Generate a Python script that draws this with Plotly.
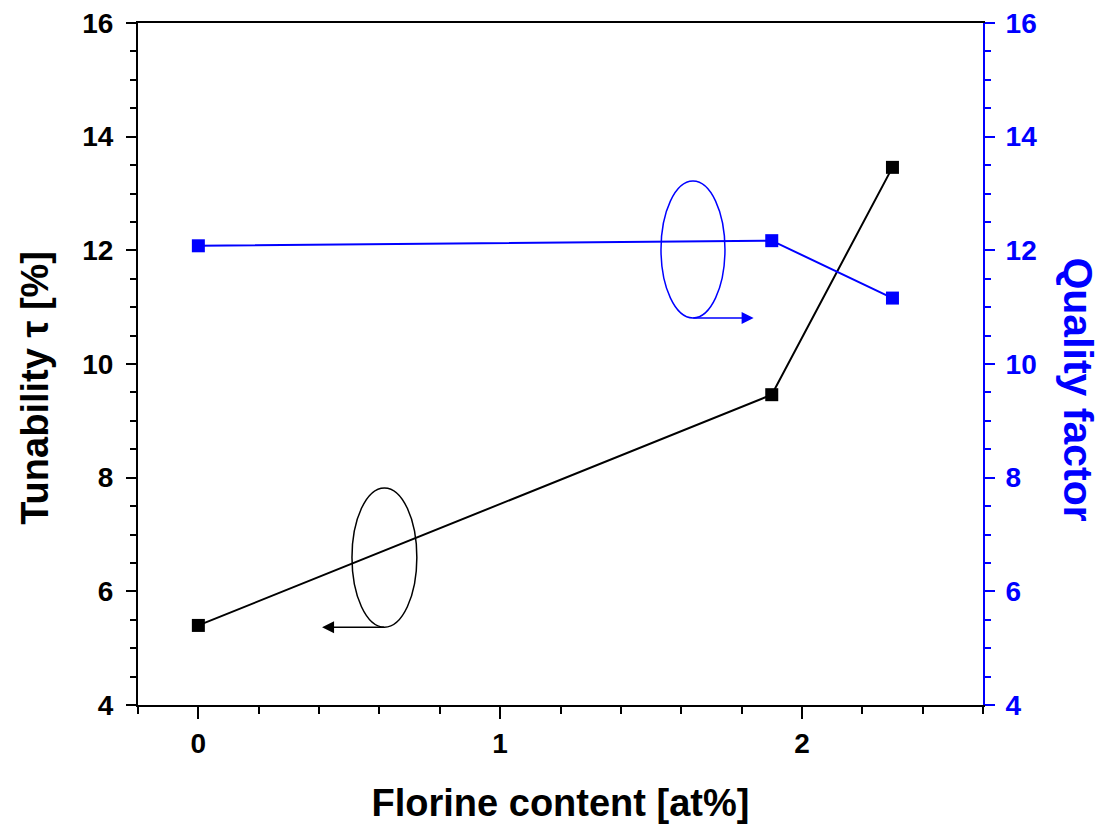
import plotly.graph_objects as go

florine = [0, 1.9, 2.3]
tunability = [5.4, 9.46, 13.46]
quality = [12.08, 12.17, 11.16]

FONT = "Liberation Sans, Arial, sans-serif"
BLUE = "#0000ff"
TICKS = [4, 6, 8, 10, 12, 14, 16]

fig = go.Figure()
fig.add_trace(go.Scatter(x=florine, y=tunability, mode="lines+markers",
                         line=dict(color="black", width=2),
                         marker=dict(symbol="square", size=13, color="black"),
                         showlegend=False))
fig.add_trace(go.Scatter(x=florine, y=quality, mode="lines+markers", yaxis="y2",
                         line=dict(color=BLUE, width=2),
                         marker=dict(symbol="square", size=13, color=BLUE),
                         showlegend=False))

# ellipses
fig.add_shape(type="circle", xref="x", yref="y", x0=0.509, x1=0.724, y0=5.37, y1=7.82,
              line=dict(color="black", width=1.5))
fig.add_shape(type="circle", xref="x", yref="y", x0=1.533, x1=1.745, y0=10.81, y1=13.22,
              line=dict(color=BLUE, width=1.5))
# arrows
fig.add_annotation(x=0.41, y=5.37, ax=0.62, ay=5.37, xref="x", yref="y", axref="x", ayref="y",
                   showarrow=True, arrowhead=2, arrowsize=1.6, arrowwidth=1.5, arrowcolor="black", text="")
fig.add_annotation(x=1.84, y=10.81, ax=1.635, ay=10.81, xref="x", yref="y", axref="x", ayref="y",
                   showarrow=True, arrowhead=2, arrowsize=1.6, arrowwidth=1.5, arrowcolor=BLUE, text="")

# axis titles as annotations
fig.add_annotation(text="<b>Quality factor</b>", xref="paper", yref="paper", x=1.113, y=0.462,
                   textangle=90, showarrow=False, font=dict(family=FONT, size=41, color=BLUE),
                   xanchor="center", yanchor="middle")
fig.add_annotation(text="<b>Tunability τ [%]</b>", xref="paper", yref="paper", x=-0.122, y=0.465,
                   textangle=-90, showarrow=False, font=dict(family=FONT, size=38, color="black"),
                   xanchor="center", yanchor="middle")

fig.update_layout(
    width=1101, height=824,
    margin=dict(l=138, r=118, t=23, b=119),
    paper_bgcolor="white", plot_bgcolor="white",
    font=dict(family=FONT, size=28, color="black"),
    xaxis=dict(range=[-0.2, 2.6], tickmode="array", tickvals=[0, 1, 2], ticktext=["<b>0</b>", "<b>1</b>", "<b>2</b>"],
               ticks="outside", ticklen=12, tickwidth=2, tickcolor="black",
               minor=dict(dtick=0.2, tick0=0, ticks="outside", ticklen=7, tickwidth=2, tickcolor="black"),
               showline=True, linecolor="black", linewidth=2, mirror=True, showgrid=False, zeroline=False,
               title=dict(text="<b>Florine content [at%]</b>", font=dict(size=38), standoff=32),
               tickfont=dict(size=28), automargin=False),
    yaxis=dict(range=[4, 16], tickmode="array", tickvals=TICKS,
               ticktext=["<b>%d</b>" % v for v in TICKS],
               ticks="outside", ticklen=10, tickwidth=2, tickcolor="black",
               minor=dict(dtick=0.5, tick0=4, ticks="outside", ticklen=6, tickwidth=2, tickcolor="black"),
               showline=True, linecolor="black", linewidth=2, showgrid=False, zeroline=False,
               tickfont=dict(size=28), ticklabelstandoff=7, automargin=False),
    yaxis2=dict(range=[4, 16], overlaying="y", side="right", tickmode="array",
                tickvals=TICKS,
                ticktext=["<b>%d</b>" % v for v in TICKS],
                ticks="outside", ticklen=10, tickwidth=2, tickcolor=BLUE,
                minor=dict(dtick=0.5, tick0=4, ticks="outside", ticklen=6, tickwidth=2, tickcolor=BLUE),
                showline=True, linecolor=BLUE, linewidth=2, showgrid=False, zeroline=False,
                tickfont=dict(size=28, color=BLUE), ticklabelstandoff=5, automargin=False),
)

fig.write_html("out.html")
